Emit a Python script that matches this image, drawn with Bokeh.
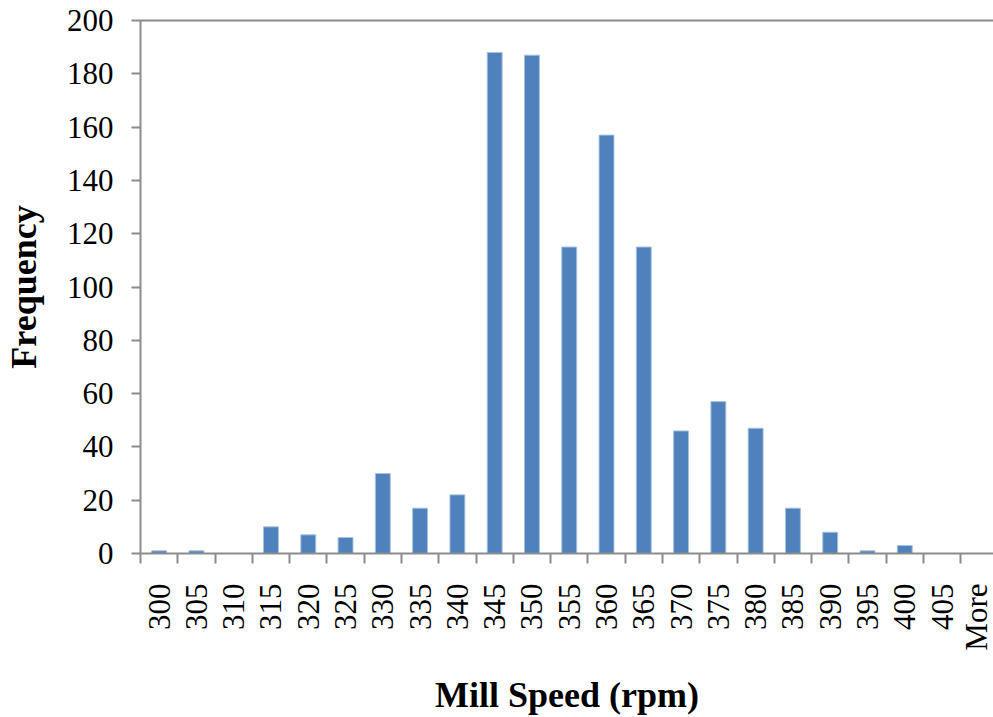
import math
from bokeh.plotting import figure
from bokeh.models import FixedTicker, LinearAxis, Range1d
from bokeh.embed import file_html
from bokeh.resources import INLINE

# Data
bins = ["300", "305", "310", "315", "320", "325", "330", "335", "340", "345", "350",
        "355", "360", "365", "370", "375", "380", "385", "390", "395", "400", "405", "More"]
frequency = [1, 1, 0, 10, 7, 6, 30, 17, 22, 188, 187,
             115, 157, 115, 46, 57, 47, 17, 8, 1, 3, 0, 0]
y_ticks = [0, 20, 40, 60, 80, 100, 120, 140, 160, 180, 200]

positions = list(range(len(bins)))

FONT = "Liberation Serif"
AXIS_COLOR = "#8c8c8c"
BAR_COLOR = "#4F81BD"

p = figure(width=993, height=717,
           x_range=Range1d(-0.5, 22.38), y_range=Range1d(0, 200),
           output_backend="svg", toolbar_location=None,
           min_border_left=140, min_border_right=0,
           min_border_top=20, min_border_bottom=164)
p.grid.visible = False
p.outline_line_color = None
p.background_fill_color = "white"
p.border_fill_color = "white"

p.vbar(x=positions, top=frequency, width=0.4,
       fill_color=BAR_COLOR, line_color="#a9c1df", line_width=1)

# x axis: labels at category centres, tick marks between categories
xa = p.xaxis[0]
xa.ticker = FixedTicker(ticks=positions,
                        minor_ticks=[i - 0.5 for i in range(len(bins) + 1)])
xa.major_label_overrides = {i: b for i, b in zip(positions, bins)}
xa.major_label_orientation = math.pi / 2
xa.major_tick_line_color = None
xa.major_tick_out = 0
xa.major_tick_in = 0
xa.minor_tick_out = 10
xa.minor_tick_in = 0
xa.minor_tick_line_color = AXIS_COLOR
xa.minor_tick_line_width = 2
xa.axis_line_color = AXIS_COLOR
xa.axis_line_width = 2
xa.major_label_standoff = 20
xa.major_label_text_font = FONT
xa.major_label_text_font_size = "31px"
xa.major_label_text_color = "black"
xa.axis_label = "Mill Speed (rpm)"
xa.axis_label_text_font = FONT
xa.axis_label_text_font_size = "36px"
xa.axis_label_text_font_style = "bold"
xa.axis_label_text_color = "black"
xa.axis_label_standoff = 21

# y axis
ya = p.yaxis[0]
ya.ticker = FixedTicker(ticks=y_ticks)
ya.minor_tick_line_color = None
ya.major_tick_out = 9
ya.major_tick_in = 0
ya.major_tick_line_color = AXIS_COLOR
ya.major_tick_line_width = 2
ya.axis_line_color = AXIS_COLOR
ya.axis_line_width = 2
ya.major_label_standoff = 18
ya.major_label_text_font = FONT
ya.major_label_text_font_size = "31px"
ya.major_label_text_color = "black"
ya.axis_label = "Frequency"
ya.axis_label_text_font = FONT
ya.axis_label_text_font_size = "36px"
ya.axis_label_text_font_style = "bold"
ya.axis_label_text_color = "black"
ya.axis_label_standoff = 20

# top border line
top = LinearAxis(ticker=FixedTicker(ticks=[]),
                 major_label_text_font_size="0px", major_label_standoff=0,
                 major_tick_out=0, major_tick_in=0, minor_tick_out=0, minor_tick_in=0,
                 major_tick_line_color=None, minor_tick_line_color=None,
                 axis_line_color=AXIS_COLOR, axis_line_width=2)
p.add_layout(top, "above")

open("out.html", "w").write(file_html(p, INLINE))
